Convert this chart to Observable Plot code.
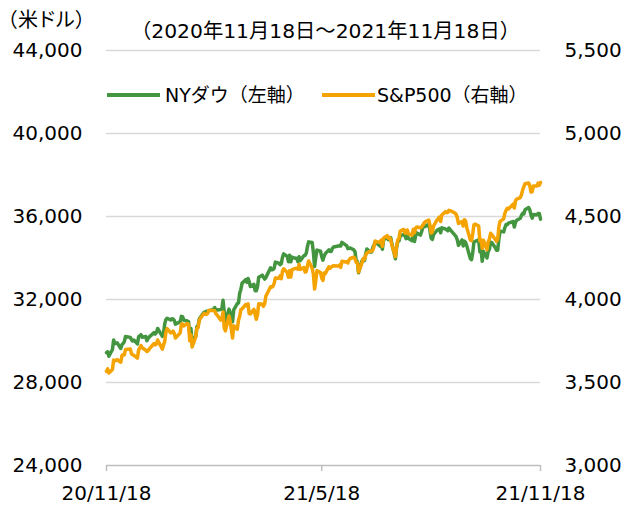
<!DOCTYPE html>
<html><head><meta charset="utf-8">
<script src="https://cdn.jsdelivr.net/npm/d3@7"></script>
<script src="https://cdn.jsdelivr.net/npm/@observablehq/plot@0.6"></script>
<style>
body{margin:0;background:#fff;}
#wrap{position:relative;width:622px;height:506px;font-family:"DejaVu Sans","Noto Sans CJK JP",sans-serif;color:#000;}
.lbl{position:absolute;white-space:nowrap;font-size:20px;line-height:24px;}
.sw{position:absolute;height:4px;}
#unit{font-feature-settings:"palt";letter-spacing:1px;}
.leg{font-size:19px;}
</style></head>
<body>
<div id="wrap">
  <div class="lbl" id="unit" style="left:7px;top:8px;">（米ドル）</div>
  <div class="lbl" id="range" style="left:131px;top:19px;font-size:20.3px;">（2020年11月18日～2021年11月18日）</div>
  <div class="sw" id="sw1" style="left:107px;top:93px;width:53px;"></div>
  <div class="lbl leg" id="leg1" style="left:165px;top:83px;"></div>
  <div class="sw" id="sw2" style="left:322px;top:93px;width:53px;"></div>
  <div class="lbl leg" id="leg2" style="left:377px;top:83px;"></div>
  <div id="chart" style="position:absolute;left:0;top:0;"></div>
</div>
<script>
// ---- data ----
const seriesNames = ["NYダウ（左軸）", "S&P500（右軸）"];
const seriesColors = ["#43963f", "#f5a300"];
const leftTicks = [24000, 28000, 32000, 36000, 40000, 44000];
const rightTicks = [3000, 3500, 4000, 4500, 5000, 5500];
const xTicks = ["2020-11-18", "2021-05-18", "2021-11-18"];
const xTickLabels = ["20/11/18", "21/5/18", "21/11/18"];

const dates = [
"2020-11-18","2020-11-19","2020-11-20","2020-11-23","2020-11-24","2020-11-25","2020-11-27","2020-11-30",
"2020-12-01","2020-12-02","2020-12-03","2020-12-04","2020-12-08","2020-12-09","2020-12-10","2020-12-11","2020-12-14","2020-12-15","2020-12-17","2020-12-18","2020-12-21","2020-12-22","2020-12-23","2020-12-24","2020-12-28","2020-12-29","2020-12-30","2020-12-31",
"2021-01-04","2021-01-05","2021-01-06","2021-01-07","2021-01-08","2021-01-11","2021-01-12","2021-01-13","2021-01-14","2021-01-15","2021-01-19","2021-01-20","2021-01-21","2021-01-22","2021-01-25","2021-01-26","2021-01-27","2021-01-28","2021-01-29",
"2021-02-01","2021-02-02","2021-02-03","2021-02-04","2021-02-05","2021-02-08","2021-02-09","2021-02-10","2021-02-11","2021-02-12","2021-02-16","2021-02-17","2021-02-18","2021-02-19","2021-02-22","2021-02-23","2021-02-24","2021-02-25","2021-02-26",
"2021-03-01","2021-03-02","2021-03-03","2021-03-04","2021-03-05","2021-03-08","2021-03-09","2021-03-10","2021-03-11","2021-03-12","2021-03-15","2021-03-16","2021-03-17","2021-03-18","2021-03-19","2021-03-22","2021-03-23","2021-03-24","2021-03-25","2021-03-26","2021-03-29","2021-03-30","2021-03-31",
"2021-04-01","2021-04-05","2021-04-06","2021-04-07","2021-04-08","2021-04-09","2021-04-12","2021-04-13","2021-04-14","2021-04-15","2021-04-16","2021-04-19","2021-04-20","2021-04-21","2021-04-22","2021-04-23","2021-04-26","2021-04-27","2021-04-28","2021-04-29","2021-04-30",
"2021-05-03","2021-05-04","2021-05-05","2021-05-06","2021-05-07","2021-05-10","2021-05-11","2021-05-12","2021-05-13","2021-05-14","2021-05-17","2021-05-18","2021-05-19","2021-05-20","2021-05-21","2021-05-24","2021-05-25","2021-05-26","2021-05-27","2021-05-28",
"2021-06-01","2021-06-02","2021-06-03","2021-06-04","2021-06-07","2021-06-08","2021-06-09","2021-06-10","2021-06-11","2021-06-14","2021-06-15","2021-06-16","2021-06-17","2021-06-18","2021-06-21","2021-06-22","2021-06-23","2021-06-24","2021-06-25","2021-06-28","2021-06-29","2021-06-30",
"2021-07-01","2021-07-02","2021-07-06","2021-07-07","2021-07-08","2021-07-09","2021-07-12","2021-07-13","2021-07-14","2021-07-15","2021-07-16","2021-07-19","2021-07-20","2021-07-21","2021-07-22","2021-07-23","2021-07-26","2021-07-27","2021-07-28","2021-07-29","2021-07-30",
"2021-08-02","2021-08-03","2021-08-04","2021-08-05","2021-08-06","2021-08-09","2021-08-10","2021-08-11","2021-08-12","2021-08-13","2021-08-16","2021-08-17","2021-08-18","2021-08-19","2021-08-20","2021-08-23","2021-08-24","2021-08-25","2021-08-26","2021-08-27","2021-08-30","2021-08-31",
"2021-09-01","2021-09-02","2021-09-03","2021-09-07","2021-09-08","2021-09-09","2021-09-10","2021-09-13","2021-09-14","2021-09-15","2021-09-16","2021-09-17","2021-09-20","2021-09-21","2021-09-22","2021-09-23","2021-09-24","2021-09-27","2021-09-28","2021-09-29","2021-09-30",
"2021-10-01","2021-10-04","2021-10-05","2021-10-06","2021-10-07","2021-10-08","2021-10-11","2021-10-12","2021-10-13","2021-10-14","2021-10-15","2021-10-18","2021-10-19","2021-10-20","2021-10-21","2021-10-22","2021-10-25","2021-10-26","2021-10-27","2021-10-28","2021-10-29",
"2021-11-01","2021-11-02","2021-11-03","2021-11-04","2021-11-05","2021-11-08","2021-11-09","2021-11-10","2021-11-11","2021-11-12","2021-11-15","2021-11-16","2021-11-17","2021-11-18"
];
const dow = [
29438,29483,29263,29591,30046,29872,29910,29638,
29824,29884,29970,30218,30174,30068,29999,30046,29862,30200,30303,30179,30216,30015,30130,30200,30404,30336,30410,30606,
30223,30392,30830,31041,31098,31009,31068,31061,30991,30814,30931,31188,31176,30997,30960,30937,30303,30604,29983,
30212,30688,30724,31056,31148,31386,31375,31438,31431,31458,31523,31613,31494,31494,31522,31537,31962,31402,30932,
31536,31391,31270,30924,31496,31802,31833,32297,32486,32779,32953,32826,33015,32862,32628,32732,32423,32420,32619,33072,33171,33067,32982,
33054,33527,33430,33446,33503,33801,33746,33677,33730,34036,34200,34078,33821,34137,33815,34043,33982,33984,33820,34060,33875,
34113,34133,34230,34548,34778,34743,34270,33587,34021,34382,34327,34060,33896,34085,34208,34394,34313,34323,34465,34529,
34575,34600,34577,34756,34630,34600,34448,34467,34480,34394,34300,33874,33823,33290,33877,33946,33874,34196,34433,34283,34292,34503,
34634,34786,34577,34682,34422,34870,34996,34889,34933,34987,34687,33962,34512,34798,34823,35061,35144,35058,34930,35085,34935,
34838,35117,34793,35065,35209,35102,35265,35485,35500,35516,35625,35343,34961,34894,35120,35336,35367,35406,35214,35455,35400,35361,
35313,35444,35369,35100,35031,34879,34608,34870,34577,34814,34751,34584,33970,33919,34258,34765,34798,34870,34300,34390,33844,
34326,34003,34314,34417,34754,34746,34496,34378,34377,34912,35295,35258,35458,35609,35603,35677,35741,35757,35490,35731,35820,
35913,36053,36158,36124,36328,36432,36320,36080,35921,36100,36087,36143,36142,35871
];
const spx = [
3567,3582,3557,3578,3635,3630,3638,3622,
3662,3669,3666,3699,3702,3672,3668,3663,3647,3695,3722,3709,3694,3687,3690,3703,3735,3727,3732,3756,
3701,3727,3748,3804,3825,3799,3801,3810,3795,3768,3799,3852,3853,3841,3855,3849,3751,3788,3714,
3774,3826,3830,3872,3887,3916,3911,3910,3916,3934,3933,3932,3914,3907,3876,3881,3925,3829,3811,
3901,3870,3820,3768,3842,3821,3875,3898,3939,3943,3969,3962,3974,3915,3913,3940,3911,3881,3909,3974,3971,3959,3973,
4020,4077,4074,4080,4097,4129,4128,4142,4125,4170,4185,4163,4134,4173,4135,4180,4188,4187,4183,4211,4181,
4192,4165,4168,4202,4232,4188,4152,4063,4113,4174,4163,4128,4115,4160,4156,4197,4188,4196,4200,4204,
4202,4208,4193,4230,4226,4227,4220,4239,4247,4255,4246,4223,4222,4166,4224,4246,4242,4266,4281,4291,4291,4298,
4320,4352,4343,4358,4320,4370,4385,4369,4374,4360,4327,4258,4323,4359,4368,4412,4422,4401,4400,4419,4395,
4387,4423,4402,4429,4437,4432,4436,4447,4460,4468,4479,4448,4400,4406,4442,4480,4486,4497,4470,4509,4529,4523,
4524,4537,4535,4521,4514,4493,4458,4469,4443,4481,4473,4433,4358,4355,4396,4449,4455,4443,4353,4360,4308,
4357,4300,4345,4363,4399,4391,4361,4350,4364,4438,4471,4486,4519,4537,4549,4545,4567,4575,4551,4596,4605,
4614,4631,4660,4680,4697,4702,4685,4647,4649,4683,4683,4701,4689,4705
];

// ---- chart ----
const L0 = leftTicks[0], L1 = leftTicks[leftTicks.length - 1];
const R0 = rightTicks[0], R1 = rightTicks[rightTicks.length - 1];
const k = (L1 - L0) / (R1 - R0);
const toLeft = v => L0 + (v - R0) * k;
const fromLeft = v => R0 + (v - L0) / k;
const fmt = d3.format(",");

const rows = dates.map((d, i) => ({date: new Date(d), dow: dow[i], spx: spx[i]}));
const xTickDates = xTicks.map(d => new Date(d));
const xLabelMap = new Map(xTickDates.map((d, i) => [+d, xTickLabels[i]]));

document.getElementById("sw1").style.background = seriesColors[0];
document.getElementById("sw2").style.background = seriesColors[1];
document.getElementById("leg1").textContent = seriesNames[0];
document.getElementById("leg2").textContent = seriesNames[1];

const chart = Plot.plot({
  width: 622, height: 506,
  marginLeft: 106, marginRight: 82, marginTop: 50, marginBottom: 41,
  style: {fontFamily: "'DejaVu Sans','Noto Sans CJK JP',sans-serif", fontSize: "20px", color: "#000", background: "transparent", overflow: "visible"},
  x: {type: "utc", domain: [xTickDates[0], xTickDates[xTickDates.length - 1]]},
  y: {domain: [L0, L1]},
  marks: [
    Plot.gridY(leftTicks.slice(1), {stroke: "#d9d9d9", strokeOpacity: 1, strokeWidth: 1.3}),
    Plot.ruleY([L0], {stroke: "#bfbfbf", strokeWidth: 1.5}),
    Plot.axisX(xTickDates, {tickSize: 6, tickPadding: 14, stroke: "#bfbfbf", strokeWidth: 1.5, fill: "#000", tickFormat: d => xLabelMap.get(+d), label: null}),
    Plot.axisY(leftTicks, {anchor: "left", tickSize: 0, tickPadding: 24, tickFormat: fmt, fill: "#000", label: null}),
    Plot.axisY(rightTicks.map(toLeft), {anchor: "right", tickSize: 0, tickPadding: 24, tickFormat: d => fmt(Math.round(fromLeft(d))), fill: "#000", label: null}),
    Plot.lineY(rows, {x: "date", y: "dow", stroke: seriesColors[0], strokeWidth: 3.5, strokeLinejoin: "round"}),
    Plot.lineY(rows, {x: "date", y: d => toLeft(d.spx), stroke: seriesColors[1], strokeWidth: 3.5, strokeLinejoin: "round"})
  ]
});
document.getElementById("chart").appendChild(chart);
</script>
</body></html>
